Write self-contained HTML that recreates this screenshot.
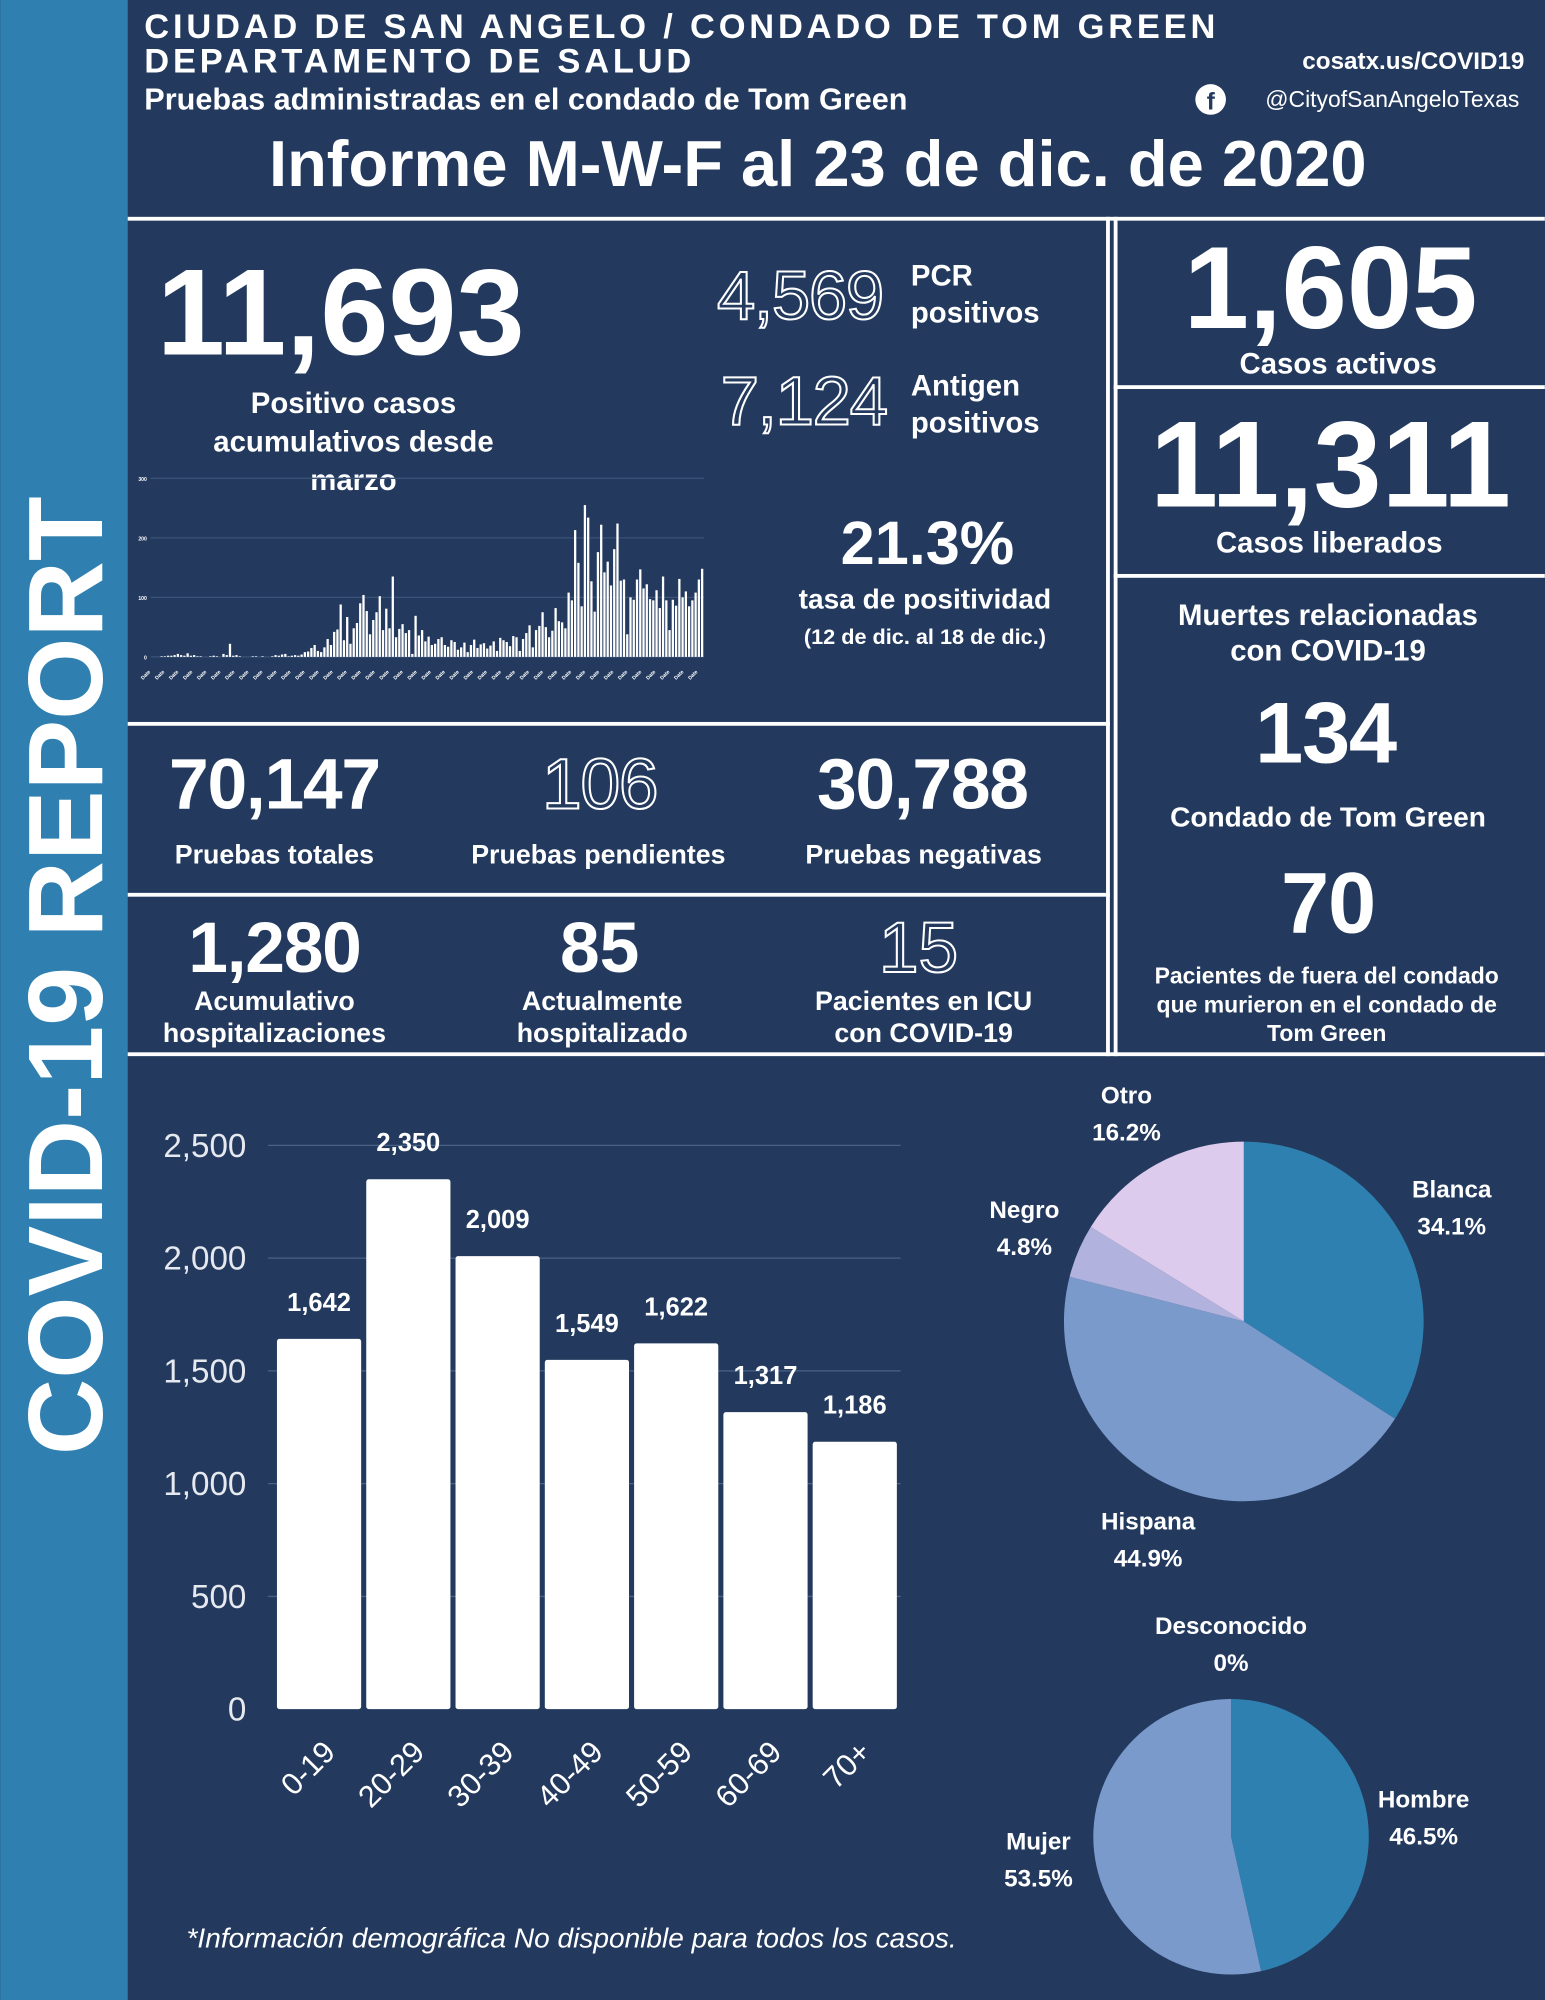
<!DOCTYPE html>
<html><head><meta charset="utf-8"><style>
html,body{margin:0;padding:0;background:#233a5e;}
svg{display:block;}
text{font-family:"Liberation Sans",sans-serif;font-weight:bold;fill:#fff;}
.o{fill:none;stroke:#fff;stroke-width:1.6;font-weight:normal;}
</style></head><body>
<svg id="root" width="1545" height="2000" viewBox="0 0 1211 1568">
<rect x="0" y="0" width="1211" height="1568" fill="#233a5e"/>
<rect x="0" y="0" width="100" height="1568" fill="#2f80b1"/>
<text transform="translate(80,765) rotate(-90)" text-anchor="middle" font-size="83">COVID-19 REPORT</text>

<text x="113" y="30" font-size="27" letter-spacing="3">CIUDAD DE SAN ANGELO / CONDADO DE TOM GREEN</text>
<text x="113" y="57" font-size="27" letter-spacing="3">DEPARTAMENTO DE SALUD</text>
<text x="113" y="86" font-size="24">Pruebas administradas en el condado de Tom Green</text>
<text x="1195" y="54" font-size="19" text-anchor="end">cosatx.us/COVID19</text>
<circle cx="949" cy="78" r="12" fill="#fff"/>
<text x="946" y="86" font-size="19" style="fill:#233a5e">f</text>
<text x="1191" y="84" font-size="18" text-anchor="end" style="font-weight:normal">@CityofSanAngeloTexas</text>
<text x="641" y="146" font-size="51" text-anchor="middle">Informe M-W-F al 23 de dic. de 2020</text>

<g fill="#fff">
<rect x="100" y="170" width="1111" height="3"/>
<rect x="867" y="170" width="3" height="658"/>
<rect x="873" y="170" width="3" height="658"/>
<rect x="873" y="302" width="338" height="3"/>
<rect x="873" y="450" width="338" height="3"/>
<rect x="100" y="566" width="770" height="3"/>
<rect x="100" y="700" width="770" height="3"/>
<rect x="100" y="825" width="1111" height="3"/>
</g>

<text x="267" y="278" font-size="96" text-anchor="middle" letter-spacing="0">11,693</text>
<text x="277" y="324" font-size="23" text-anchor="middle">Positivo casos</text>
<text x="277" y="354" font-size="23" text-anchor="middle">acumulativos desde</text>
<text x="277" y="384" font-size="23" text-anchor="middle">marzo</text>

<text x="627" y="250" font-size="54" class="o" text-anchor="middle" letter-spacing="-1">4,569</text>
<text x="714" y="224" font-size="23">PCR</text>
<text x="714" y="253" font-size="23">positivos</text>
<text x="630" y="333" font-size="54" class="o" text-anchor="middle" letter-spacing="-1">7,124</text>
<text x="714" y="310" font-size="23">Antigen</text>
<text x="714" y="339" font-size="23">positivos</text>

<text x="727" y="442" font-size="48" text-anchor="middle">21.3%</text>
<text x="725" y="477" font-size="22" text-anchor="middle">tasa de positividad</text>
<text x="725" y="505" font-size="17" text-anchor="middle">(12 de dic. al 18 de dic.)</text>

<g id="mini"></g>

<text x="1043" y="257" font-size="92" text-anchor="middle" letter-spacing="0">1,605</text>
<text x="1049" y="293" font-size="23" text-anchor="middle">Casos activos</text>
<text x="1043" y="397" font-size="96" text-anchor="middle" letter-spacing="0">11,311</text>
<text x="1042" y="433" font-size="23" text-anchor="middle">Casos liberados</text>

<text x="1041" y="490" font-size="23" text-anchor="middle">Muertes relacionadas</text>
<text x="1041" y="518" font-size="23" text-anchor="middle">con COVID-19</text>
<text x="1039" y="598" font-size="68" text-anchor="middle" letter-spacing="-1">134</text>
<text x="1041" y="648" font-size="22" text-anchor="middle">Condado de Tom Green</text>
<text x="1041" y="731" font-size="68" text-anchor="middle" letter-spacing="-1">70</text>
<text x="1040" y="771" font-size="18" text-anchor="middle">Pacientes de fuera del condado</text>
<text x="1040" y="794" font-size="18" text-anchor="middle">que murieron en el condado de</text>
<text x="1040" y="816" font-size="18" text-anchor="middle">Tom Green</text>

<text x="215" y="634" font-size="56" text-anchor="middle" letter-spacing="-1">70,147</text>
<text x="215" y="677" font-size="21" text-anchor="middle">Pruebas totales</text>
<text x="470" y="634" font-size="56" class="o" text-anchor="middle" letter-spacing="-1">106</text>
<text x="469" y="677" font-size="21" text-anchor="middle">Pruebas pendientes</text>
<text x="723" y="634" font-size="56" text-anchor="middle" letter-spacing="-1">30,788</text>
<text x="724" y="677" font-size="21" text-anchor="middle">Pruebas negativas</text>

<text x="215" y="762" font-size="56" text-anchor="middle" letter-spacing="-1">1,280</text>
<text x="215" y="792" font-size="21" text-anchor="middle">Acumulativo</text>
<text x="215" y="817" font-size="21" text-anchor="middle">hospitalizaciones</text>
<text x="470" y="762" font-size="56" text-anchor="middle">85</text>
<text x="472" y="792" font-size="21" text-anchor="middle">Actualmente</text>
<text x="472" y="817" font-size="21" text-anchor="middle">hospitalizado</text>
<text x="720" y="762" font-size="56" class="o" text-anchor="middle">15</text>
<text x="724" y="792" font-size="21" text-anchor="middle">Pacientes en ICU</text>
<text x="724" y="817" font-size="21" text-anchor="middle">con COVID-19</text>

<g id="bars"></g>
<g id="pie1"></g>
<g id="pie2"></g>

<text x="448" y="1527" font-size="22" text-anchor="middle" font-style="italic" style="font-weight:normal">*Información demográfica No disponible para todos los casos.</text>
</svg>
<script>
const NS="http://www.w3.org/2000/svg";
const dailyCases=[0,0,0,1,1,2,2,3,5,3,2,6,2,3,1,1,0,0,1,2,1,0,5,3,22,
2,3,1,0,0,0,1,1,0,1,0,0,1,3,2,4,5,
1,2,3,2,4,8,9,15,20,10,8,16,30,20,42,46,
88,28,67,22,48,57,90,104,77,38,62,75,102,45,81,48,135,
33,47,55,40,45,5,69,36,45,26,34,20,22,
30,33,20,17,28,25,12,16,24,8,20,29,15,21,23,14,19,26,10,
32,28,25,18,35,33,10,30,40,53,16,45,52,75,50,33,44,82,60,58,48,
108,95,213,158,85,255,234,127,76,176,222,142,160,120,181,224,128,130,
38,100,96,130,147,115,122,97,95,112,82,135,95,45,96,86,131,100,110,85,95,108,130,148];
const miniTicks=[0,100,200,300];
const ageGroups=["0-19","20-29","30-39","40-49","50-59","60-69","70+"];
const ageCases=[1642,2350,2009,1549,1622,1317,1186];
const ageTicks=[0,500,1000,1500,2000,2500];
const raceLabels=["Blanca","Hispana","Negro","Otro"];
const raceValues=[34.1,44.9,4.8,16.2];
const sexLabels=["Hombre","Mujer","Desconocido"];
const sexValues=[46.5,53.5,0];

function mk(tag,attrs,parent){const e=document.createElementNS(NS,tag);for(const k in attrs)e.setAttribute(k,attrs[k]);parent.appendChild(e);return e;}
function fmt(n){return n.toLocaleString("en-US");}

const mini=document.getElementById("mini");
const mx0=118,mx1=552,my0=515,my1=375,mmax=300;
const my=v=>my0-(v/mmax)*(my0-my1);
miniTicks.forEach(t=>{
  const l=mk("line",{x1:mx0,x2:mx1,y1:my(t),y2:my(t),stroke:"#3a5277","stroke-width":1},mini);
  
  
  const tx=mk("text",{x:mx0-3,y:my(t)+2,"font-size":4,"text-anchor":"end"},mini);
  tx.textContent=t;
  
  
});
const bw=(mx1-mx0)/dailyCases.length;
dailyCases.forEach((v,i)=>{
  const r=mk("rect",{x:mx0+i*bw,y:my(v),width:bw*0.7,height:my0-my(v),fill:"#fff"},mini);
  
  
});
for(let i=0;i<40;i++){
  const t=mk("text",{transform:`translate(${mx0+i*11},${my0+12}) rotate(-45)`,"font-size":4,"text-anchor":"end",fill:"#ccd"},mini);
  t.textContent="Date";
  
  
}

const bars=document.getElementById("bars");
const by0=1340,by1=898,bmax=2500,bx0=215,step=70,bWidth=66;
const by=v=>by0-(v/bmax)*(by0-by1);
ageTicks.forEach(t=>{
  if(t>0){const l=mk("line",{x1:210,x2:706,y1:by(t),y2:by(t),stroke:"#4a6186","stroke-width":1},bars);
  
  }
  const tx=mk("text",{x:193,y:by(t)+9,"font-size":26,"text-anchor":"end",style:"font-weight:normal;fill:#e6e9ef"},bars);
  tx.textContent=fmt(t);
  
  
});
ageCases.forEach((v,i)=>{
  const x=bx0+i*step+2;
  const r=mk("rect",{x:x,y:by(v),width:bWidth,height:by0-by(v),fill:"#fff",rx:2},bars);
  
  
  const lab=mk("text",{x:x+bWidth/2,y:by(v)-22,"font-size":20,"text-anchor":"middle"},bars);
  lab.textContent=fmt(v);
  
  
  const xl=mk("text",{transform:`translate(${x+bWidth/2+14},${by0+35}) rotate(-45)`,"font-size":24,"text-anchor":"end",style:"font-weight:normal"},bars);
  xl.textContent=ageGroups[i];
  
  
});

function pie(g,cx,cy,r,vals,cols,names){
  let a=0;const tot=vals.reduce((s,v)=>s+v,0);
  vals.forEach((v,i)=>{
    if(v<=0)return;
    const a0=a/tot*2*Math.PI,a1=(a+v)/tot*2*Math.PI;a+=v;
    const p=(t)=>[cx+r*Math.sin(t),cy-r*Math.cos(t)];
    const [x0,y0]=p(a0),[x1,y1]=p(a1);
    const large=(a1-a0)>Math.PI?1:0;
    const s=mk("path",{d:`M${cx},${cy}L${x0},${y0}A${r},${r} 0 ${large} 1 ${x1},${y1}Z`,fill:cols[i]},g);
    
    
  });
}
const p1=document.getElementById("pie1");
pie(p1,975,1036,141,raceValues,["#2e80b0","#7a9acb","#b2b2de","#dccbec"],raceLabels);
const p2=document.getElementById("pie2");
pie(p2,965,1440,108,sexValues,["#2e80b0","#7a9acb","#999"],sexLabels);
function lbl(g,x,y,name,val){
  const t1=mk("text",{x:x,y:y,"font-size":19,"text-anchor":"middle"},g);t1.textContent=name;
  
  
  const t2=mk("text",{x:x,y:y+29,"font-size":19,"text-anchor":"middle"},g);t2.textContent=val+"%";
  
  
}
const racePos=[[1138,939],[900,1199],[803,955],[883,865]];
raceLabels.forEach((n,i)=>lbl(p1,racePos[i][0],racePos[i][1],n,raceValues[i]));
const sexPos=[[1116,1417],[814,1450],[965,1281]];
sexLabels.forEach((n,i)=>lbl(p2,sexPos[i][0],sexPos[i][1],n,sexValues[i]));
</script>
</body></html>
